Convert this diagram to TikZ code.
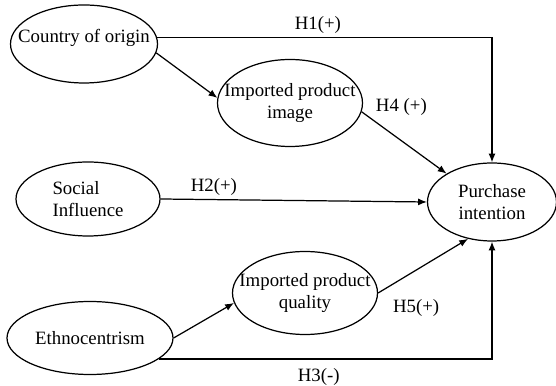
\documentclass[tikz,border=0pt]{standalone}
\usepackage{fontspec}
\setmainfont{Liberation Serif}
\usetikzlibrary{arrows.meta,positioning,shapes.geometric}

\begin{document}
\begin{tikzpicture}[
  var/.style={draw, ellipse, line width=0.7pt, inner sep=0pt},
  vtxt/.style={align=center, inner sep=0pt, font=\fontsize{10.7pt}{13pt}\selectfont},
  hyp/.style={font=\fontsize{10.7pt}{13pt}\selectfont, inner sep=2pt},
  arr/.style={-{Latex[length=5pt,width=4pt]}, line width=0.7pt}
]
\useasboundingbox (0,0) rectangle (11.12,-7.72);

% left column
\node[var, minimum width=2.94cm, minimum height=1.56cm,
  label={[vtxt, yshift=0.12cm]center:Country of origin}] (coo) at (1.68,-0.88) {};
\node[var, minimum width=2.88cm, minimum height=1.48cm,
  label={[vtxt, align=left]center:Social\\Influence}] (soc) at (1.76,-3.98) {};
\node[var, minimum width=3.32cm, minimum height=1.46cm,
  label={[vtxt]center:Ethnocentrism}] (eth) at (1.80,-6.76) {};

% mediators and outcome
\node[var, minimum width=2.90cm, minimum height=1.74cm,
  label={[vtxt]center:Imported product\\image}] (ipi) at (5.80,-2.06) {};
\node[var, minimum width=2.90cm, minimum height=1.66cm,
  label={[vtxt]center:Imported product\\quality}] (ipq) at (6.10,-5.86) {};
\node[var, minimum width=2.58cm, minimum height=1.56cm,
  label={[vtxt]center:Purchase\\intention}] (pi) at (9.84,-4.04) {};

\draw[arr] (coo.5) -| node[hyp, above, pos=0.24] {H1(+)} (pi.north);
\draw[arr] (coo.-7) -- (ipi.176);
\draw[arr] (ipi.-7) -- node[hyp, above right, pos=0.12] {H4 (+)} (pi.148);
\draw[arr] (soc.east) -- node[hyp, above, pos=0.2] {H2(+)} (pi.west);
\draw[arr] (eth.east) -- (ipq.188);
\draw[arr] (ipq.east) -- node[hyp, below right, pos=0.12, yshift=-5pt] {H5(+)} (pi.237);
\draw[arr] (eth.-17) -| node[hyp, below, pos=0.24, yshift=-3pt] {H3(-)} (pi.south);

\end{tikzpicture}
\end{document}
